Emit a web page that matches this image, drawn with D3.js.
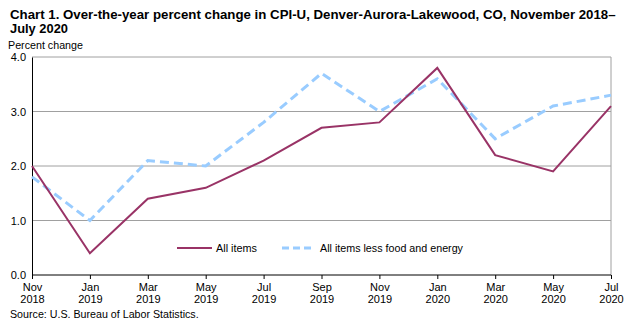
<!DOCTYPE html>
<html><head><meta charset="utf-8">
<script src="https://cdn.jsdelivr.net/npm/d3@7"></script>
<style>body{margin:0;background:#fff}svg{display:block}</style>
</head><body><svg id="c" width="633" height="326"></svg>
<script>
const months = ["Nov","Jan","Mar","May","Jul","Sep","Nov","Jan","Mar","May","Jul"];
const years = ["2018","2019","2019","2019","2019","2019","2019","2020","2020","2020","2020"];
const allItems = [2.0,0.4,1.4,1.6,2.1,2.7,2.8,3.8,2.2,1.9,3.1];
const coreItems = [1.8,1.0,2.1,2.0,2.8,3.7,3.0,3.6,2.5,3.1,3.3];
const yTicks = [0,1,2,3,4];
const seriesNames = ["All items","All items less food and energy"];

const svg = d3.select("#c");
const L=32,R=611,T=57,B=275;
const x = d3.scalePoint().domain(d3.range(months.length)).range([L,R]);
const y = d3.scaleLinear().domain([0,4]).range([B,T]);
const font = "Arial, 'Liberation Sans', sans-serif";

// text scaled horizontally to a given width via transform
function fitText(parent, px, py, width, size, weight, str){
  const t = parent.append("text").attr("font-family",font).attr("font-size",size)
    .attr("font-weight",weight).attr("fill","#000").text(str);
  const w = t.node().getComputedTextLength();
  const sx = width / w;
  t.attr("transform",`translate(${px},${py}) scale(${sx},1)`);
  return t;
}

fitText(svg, 10, 18.5, 606, 13.5, "bold", "Chart 1. Over-the-year percent change in CPI-U, Denver-Aurora-Lakewood, CO, November 2018–");
fitText(svg, 10, 32.5, 58, 13.5, "bold", "July 2020");
fitText(svg, 8, 48.5, 75, 11, "normal", "Percent change");

// gridlines
svg.append("g").selectAll("line").data(yTicks.filter(d=>d>0)).join("line")
  .attr("x1",L).attr("x2",R).attr("y1",d=>y(d)).attr("y2",d=>y(d)).attr("stroke","#a0a0a0").attr("stroke-width",1);
svg.append("line").attr("x1",R).attr("x2",R).attr("y1",T).attr("y2",B).attr("stroke","#a0a0a0");

// y axis
const ya = svg.append("g").attr("transform",`translate(${L},0)`)
  .call(d3.axisLeft(y).tickValues(yTicks).tickFormat(d3.format(".1f")).tickSize(0).tickPadding(6));
ya.select(".domain").attr("stroke","#000");
ya.selectAll("text").attr("font-family",font).attr("font-size",11).attr("fill","#000");

// x axis
const xa = svg.append("g").attr("transform",`translate(0,${B})`)
  .call(d3.axisBottom(x).tickSize(4).tickFormat(""));
xa.select(".domain").attr("stroke","#000").attr("d",`M${L},0H${R}`);
xa.selectAll(".tick line").attr("stroke","#000");
xa.selectAll(".tick").each(function(d){
  const g=d3.select(this);
  g.append("text").attr("y",15.5).attr("text-anchor","middle").attr("font-family",font).attr("font-size",11).attr("fill","#000").text(months[d]);
  g.append("text").attr("y",28).attr("text-anchor","middle").attr("font-family",font).attr("font-size",11).attr("fill","#000").text(years[d]);
});

const line = d3.line().x((d,i)=>x(i)).y(d=>y(d));
svg.append("path").datum(coreItems).attr("d",line).attr("fill","none").attr("stroke","#99ccff").attr("stroke-width",3).attr("stroke-dasharray","9,5");
svg.append("path").datum(allItems).attr("d",line).attr("fill","none").attr("stroke","#993366").attr("stroke-width",2);

// legend
const lg = svg.append("g");
lg.append("line").attr("x1",177).attr("x2",212).attr("y1",248).attr("y2",248).attr("stroke","#993366").attr("stroke-width",2);
fitText(lg, 216, 252, 41, 11, "normal", seriesNames[0]);
lg.append("line").attr("x1",282).attr("x2",314).attr("y1",248).attr("y2",248).attr("stroke","#99ccff").attr("stroke-width",3).attr("stroke-dasharray","7,4");
fitText(lg, 320, 252, 143, 11, "normal", seriesNames[1]);

fitText(svg, 10, 318, 189, 11, "normal", "Source: U.S. Bureau of Labor Statistics.");
</script></body></html>
